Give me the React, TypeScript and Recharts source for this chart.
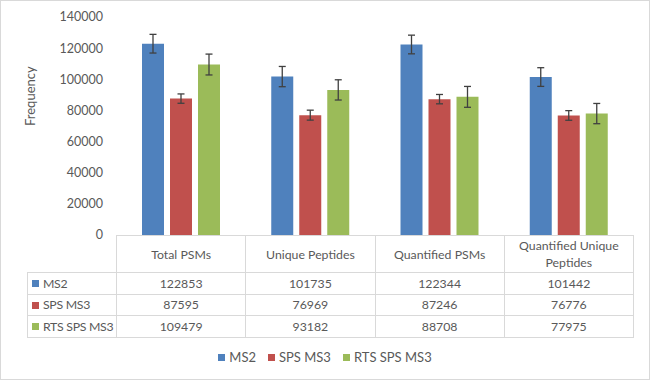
import { BarChart, Bar, XAxis, YAxis, ErrorBar } from 'recharts';

const categories = ['Total PSMs', 'Unique Peptides', 'Quantified PSMs', 'Quantified Unique Peptides'];
const seriesNames = ['MS2', 'SPS MS3', 'RTS SPS MS3'];
const ms2 = [122853, 101735, 122344, 101442];
const spsMs3 = [87595, 76969, 87246, 76776];
const rtsSpsMs3 = [109479, 93182, 88708, 77975];
const ms2Err = [6000, 6500, 6000, 6000];
const spsMs3Err = [3000, 3200, 3000, 3100];
const rtsSpsMs3Err = [6700, 6500, 6700, 6500];
const yTicks = [0, 20000, 40000, 60000, 80000, 100000, 120000, 140000];

const colors = ['#4f81bd', '#c0504d', '#9bbb59'];
const textColor = '#595959';
const gridColor = '#d9d9d9';
const font = 'Lato, "Liberation Sans", sans-serif';

const data = categories.map((name, i) => ({
  name,
  ms2: ms2[i],
  sps: spsMs3[i],
  rts: rtsSpsMs3[i],
  ms2Err: ms2Err[i],
  spsErr: spsMs3Err[i],
  rtsErr: rtsSpsMs3Err[i],
}));

const tableRows = [ms2, spsMs3, rtsSpsMs3];

const W = 650;
const H = 380;
const PLOT_LEFT = 116;
const PLOT_RIGHT = 633;
const PLOT_TOP = 17;
const PLOT_BOTTOM = 235;
const LABEL_COL_LEFT = 27;

function Swatch({ color }: { color: string }) {
  return (
    <span
      style={{
        display: 'inline-block',
        width: 7,
        height: 7,
        background: color,
        marginRight: 4,
        verticalAlign: 'middle',
        position: 'relative',
        top: -1,
      }}
    />
  );
}

export default function App() {
  const colW = (PLOT_RIGHT - PLOT_LEFT) / categories.length;
  const cell = {
    border: `1px solid ${gridColor}`,
    padding: 0,
    textAlign: 'center' as const,
    verticalAlign: 'middle' as const,
  };

  return (
    <div style={{ position: 'absolute', left: 0, top: 0, width: W, height: H, background: '#fff', fontFamily: font }}>
      <BarChart
        width={W}
        height={H}
        data={data}
        margin={{ top: PLOT_TOP, right: W - PLOT_RIGHT, left: 0, bottom: H - PLOT_BOTTOM }}
        barSize={22}
        barGap={6}
      >
        <XAxis dataKey="name" hide />
        <YAxis
          width={PLOT_LEFT}
          domain={[0, 140000]}
          ticks={yTicks}
          axisLine={false}
          tickLine={false}
          tickSize={0}
          tickMargin={13}
          tick={{ fill: textColor, fontSize: 12.5, fontFamily: font }}
          label={{
            value: 'Frequency',
            angle: -90,
            position: 'insideLeft',
            offset: 30,
            fill: textColor,
            fontSize: 13,
            fontFamily: font,
          }}
        />
        <Bar dataKey="ms2" name={seriesNames[0]} fill={colors[0]} isAnimationActive={false}>
          <ErrorBar dataKey="ms2Err" width={3.5} stroke="#404040" strokeWidth={1.3} />
        </Bar>
        <Bar dataKey="sps" name={seriesNames[1]} fill={colors[1]} isAnimationActive={false}>
          <ErrorBar dataKey="spsErr" width={3.5} stroke="#404040" strokeWidth={1.3} />
        </Bar>
        <Bar dataKey="rts" name={seriesNames[2]} fill={colors[2]} isAnimationActive={false}>
          <ErrorBar dataKey="rtsErr" width={3.5} stroke="#404040" strokeWidth={1.3} />
        </Bar>
      </BarChart>

      <table
        style={{
          position: 'absolute',
          left: LABEL_COL_LEFT,
          top: PLOT_BOTTOM,
          width: PLOT_RIGHT - LABEL_COL_LEFT,
          borderCollapse: 'collapse',
          tableLayout: 'fixed',
          fontFamily: font,
          fontSize: 12.3,
          color: textColor,
        }}
      >
        <colgroup>
          <col style={{ width: PLOT_LEFT - LABEL_COL_LEFT }} />
          {categories.map((c) => (
            <col key={c} style={{ width: colW }} />
          ))}
        </colgroup>
        <tbody>
          <tr style={{ height: 37 }}>
            <td style={{ padding: 0, borderTop: 'none', borderLeft: 'none' }} />
            {categories.map((c) => (
              <td key={c} style={{ ...cell, lineHeight: '17px', paddingLeft: 14, paddingRight: 14 }}>
                {c}
              </td>
            ))}
          </tr>
          {tableRows.map((row, r) => (
            <tr key={seriesNames[r]} style={{ height: 21.5 }}>
              <td style={{ ...cell, textAlign: 'left', paddingLeft: 4, whiteSpace: 'nowrap', letterSpacing: -0.3 }}>
                <Swatch color={colors[r]} />
                {seriesNames[r]}
              </td>
              {row.map((v, i) => (
                <td key={categories[i]} style={cell}>
                  {v}
                </td>
              ))}
            </tr>
          ))}
        </tbody>
      </table>

      <div
        style={{
          position: 'absolute',
          left: 0,
          top: 348,
          width: W,
          textAlign: 'center',
          fontSize: 13,
          color: textColor,
          lineHeight: '18px',
        }}
      >
        {seriesNames.map((s, i) => (
          <span key={s} style={{ marginRight: i < seriesNames.length - 1 ? 12 : 0, whiteSpace: 'nowrap' }}>
            <Swatch color={colors[i]} />
            {s}
          </span>
        ))}
      </div>

      <div
        style={{
          position: 'absolute',
          left: 0,
          top: 0,
          width: W,
          height: H,
          boxSizing: 'border-box',
          border: `1px solid ${gridColor}`,
          pointerEvents: 'none',
        }}
      />
    </div>
  );
}
